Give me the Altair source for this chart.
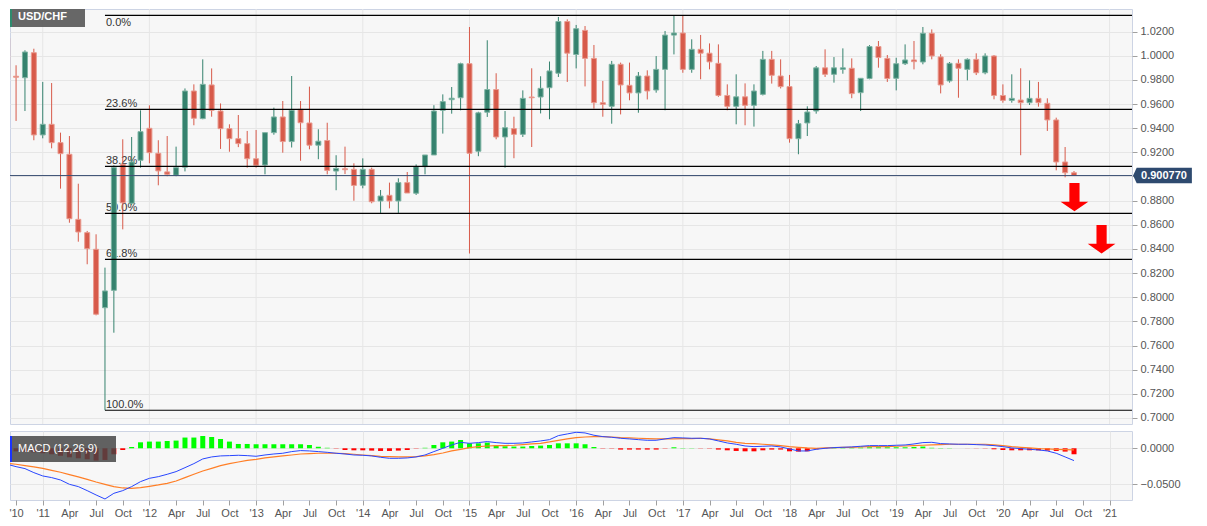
import json
import altair as alt
import numpy as np
import pandas as pd

# ---------------- data ----------------
PAIR = "USD/CHF"
INDICATOR = "MACD (12,26,9)"

months = pd.date_range("2010-09-01", periods=121, freq="MS")

opens = [
    1.0145, 0.9830, 0.9818, 1.0025,
    0.9344, 0.9432, 0.9280, 0.9184, 0.8645, 0.8535, 0.8397, 0.7913, 0.8057, 0.9100, 0.8778, 0.9134,
    0.9399, 0.9192, 0.9038, 0.9010, 0.9077, 0.9708, 0.9479, 0.9758, 0.9542, 0.9396, 0.9313, 0.9272,
    0.9147, 0.9095, 0.9363, 0.9493, 0.9289, 0.9556, 0.9443, 0.9259, 0.9298, 0.9045, 0.9064, 0.9059,
    0.8927, 0.9059, 0.8797, 0.8844, 0.8797, 0.8949, 0.8861, 0.9081, 0.9178, 0.9548, 0.9636, 0.9652,
    0.9934, 0.9209, 0.9532, 0.9720, 0.9327, 0.9396, 0.9349, 0.9658, 0.9658, 0.9735, 0.9855, 1.0283,
    1.0010, 1.0210, 0.9978, 0.9611, 0.9581, 0.9929, 0.9755, 0.9692, 0.9832, 0.9716, 0.9887, 1.0171,
    1.0188, 0.9887, 1.0053, 1.0021, 0.9937, 0.9671, 0.9581, 0.9660, 0.9589, 0.9680, 0.9970, 0.9832,
    0.9744, 0.9313, 0.9443, 0.9542, 0.9900, 0.9846, 0.9887, 0.9896, 0.9694, 0.9811, 1.0076, 0.9978,
    0.9813, 0.9934, 0.9965, 0.9948, 1.0186, 0.9990, 0.9791, 0.9937, 0.9887, 0.9970, 0.9859, 0.9998,
    0.9671, 0.9630, 0.9633, 0.9611, 0.9647, 0.9606, 0.9468, 0.9120, 0.9031,
]
highs = [
    1.0191, 0.9921, 1.0045, 1.0058,
    0.9783, 0.9774, 0.9363, 0.9335, 0.8940, 0.8549, 0.8521, 0.8245, 0.9093, 0.9308, 0.9327, 0.9548,
    0.9589, 0.9300, 0.9335, 0.9247, 0.9729, 0.9763, 0.9970, 0.9895, 0.9605, 0.9432, 0.9509, 0.9377,
    0.9385, 0.9363, 0.9570, 0.9625, 0.9832, 0.9625, 0.9744, 0.9391, 0.9445, 0.9176, 0.9247, 0.9109,
    0.9150, 0.9073, 0.8888, 0.8949, 0.8985, 0.9037, 0.9100, 0.9178, 0.9590, 0.9680, 0.9741, 0.9942,
    1.0238, 0.9536, 1.0128, 0.9855, 0.9542, 0.9495, 0.9713, 0.9896, 0.9830, 0.9952, 1.0321, 1.0301,
    1.0255, 1.0246, 1.0089, 0.9791, 0.9957, 0.9943, 0.9943, 0.9865, 0.9879, 0.9997, 1.0205, 1.0337,
    1.0337, 1.0136, 1.0172, 1.0102, 1.0094, 0.9763, 0.9846, 0.9771, 0.9763, 1.0040, 1.0040, 0.9970,
    0.9841, 0.9468, 0.9581, 0.9915, 1.0053, 0.9989, 1.0061, 0.9978, 0.9813, 1.0088, 1.0122, 1.0006,
    0.9983, 1.0094, 1.0122, 1.0238, 1.0218, 1.0012, 0.9948, 0.9970, 0.9978, 1.0020, 1.0020, 1.0006,
    0.9763, 0.9846, 0.9896, 0.9796, 0.9783, 0.9647, 0.9487, 0.9244, 0.9045,
]
lows = [
    0.9708, 0.9460, 0.9542, 0.9300,
    0.9316, 0.9233, 0.8899, 0.8617, 0.8460, 0.8273, 0.7850, 0.7064, 0.7706, 0.8562, 0.8764, 0.9073,
    0.9109, 0.8927, 0.9002, 0.9002, 0.9042, 0.9424, 0.9474, 0.9495, 0.9228, 0.9205, 0.9243, 0.9073,
    0.9073, 0.9018, 0.9346, 0.9197, 0.9240, 0.9130, 0.9225, 0.9143, 0.9018, 0.8886, 0.9020, 0.8799,
    0.8902, 0.8778, 0.8698, 0.8736, 0.8698, 0.8863, 0.8847, 0.9018, 0.9178, 0.9355, 0.9520, 0.9548,
    0.8362, 0.9168, 0.9493, 0.9308, 0.9073, 0.9151, 0.9327, 0.9244, 0.9522, 0.9474, 0.9824, 0.9783,
    0.9895, 0.9746, 0.9562, 0.9495, 0.9437, 0.9514, 0.9631, 0.9528, 0.9638, 0.9694, 0.9548, 1.0011,
    0.9859, 0.9859, 0.9805, 0.9887, 0.9660, 0.9548, 0.9432, 0.9424, 0.9413, 0.9671, 0.9769, 0.9729,
    0.9280, 0.9184, 0.9335, 0.9520, 0.9824, 0.9777, 0.9851, 0.9648, 0.9542, 0.9805, 0.9901, 0.9783,
    0.9713, 0.9923, 0.9887, 0.9929, 0.9970, 0.9688, 0.9777, 0.9652, 0.9796, 0.9840, 0.9846, 0.9639,
    0.9611, 0.9611, 0.9176, 0.9592, 0.9578, 0.9377, 0.9051, 0.8993, 0.9004,
]
closes = [
    0.9818, 0.9822, 1.0031, 0.9344,
    0.9432, 0.9280, 0.9189, 0.8650, 0.8540, 0.8402, 0.7859, 0.8052, 0.9073, 0.8782, 0.9120, 0.9371,
    0.9197, 0.9046, 0.9018, 0.9073, 0.9708, 0.9482, 0.9763, 0.9548, 0.9396, 0.9313, 0.9272, 0.9147,
    0.9093, 0.9363, 0.9493, 0.9289, 0.9548, 0.9445, 0.9259, 0.9292, 0.9050, 0.9067, 0.9056, 0.8926,
    0.9059, 0.8791, 0.8838, 0.8797, 0.8949, 0.8863, 0.9081, 0.9178, 0.9542, 0.9620, 0.9648, 0.9934,
    0.9192, 0.9527, 0.9720, 0.9327, 0.9404, 0.9349, 0.9647, 0.9652, 0.9730, 0.9874, 1.0283, 1.0021,
    1.0224, 0.9978, 0.9611, 0.9597, 0.9929, 0.9758, 0.9692, 0.9832, 0.9708, 0.9887, 1.0171, 1.0188,
    0.9887, 1.0053, 1.0021, 0.9949, 0.9671, 0.9581, 0.9660, 0.9589, 0.9708, 0.9970, 0.9838, 0.9744,
    0.9313, 0.9437, 0.9534, 0.9900, 0.9846, 0.9900, 0.9900, 0.9686, 0.9813, 1.0076, 0.9985, 0.9811,
    0.9934, 0.9965, 0.9951, 1.0186, 0.9998, 0.9758, 0.9937, 0.9896, 0.9970, 0.9859, 0.9998, 0.9671,
    0.9630, 0.9647, 0.9611, 0.9647, 0.9611, 0.9468, 0.9120, 0.9031, 0.9008,
]
macd_line = [
    -0.0222, -0.0255, -0.0282, -0.0338,
    -0.0384, -0.0407, -0.0440, -0.0500, -0.0532, -0.0588, -0.0648, -0.0704, -0.0625, -0.0588, -0.0532, -0.0463,
    -0.0417, -0.0394, -0.0361, -0.0324, -0.0269, -0.0213, -0.0148, -0.0120, -0.0106, -0.0102, -0.0097, -0.0102,
    -0.0111, -0.0093, -0.0079, -0.0069, -0.0046, -0.0032, -0.0037, -0.0046, -0.0056, -0.0069, -0.0079, -0.0093,
    -0.0097, -0.0106, -0.0125, -0.0139, -0.0139, -0.0134, -0.0120, -0.0093, -0.0046, 0.0000, 0.0046, 0.0083,
    0.0069, 0.0079, 0.0093, 0.0079, 0.0069, 0.0069, 0.0074, 0.0088, 0.0102, 0.0120, 0.0176, 0.0199,
    0.0222, 0.0213, 0.0181, 0.0162, 0.0153, 0.0139, 0.0130, 0.0120, 0.0111, 0.0111, 0.0130, 0.0148,
    0.0144, 0.0139, 0.0139, 0.0130, 0.0102, 0.0074, 0.0056, 0.0032, 0.0023, 0.0028, 0.0032, 0.0019,
    -0.0009, -0.0037, -0.0037, -0.0014, 0.0000, 0.0009, 0.0014, 0.0019, 0.0028, 0.0037, 0.0037, 0.0037,
    0.0042, 0.0046, 0.0060, 0.0079, 0.0083, 0.0065, 0.0060, 0.0056, 0.0056, 0.0051, 0.0046, 0.0037,
    0.0023, 0.0005, -0.0005, -0.0014, -0.0023, -0.0037, -0.0069, -0.0120, -0.0171,
]
signal_line = [
    -0.0208, -0.0222, -0.0241, -0.0259,
    -0.0278, -0.0306, -0.0333, -0.0366, -0.0398, -0.0431, -0.0468, -0.0500, -0.0532, -0.0551, -0.0556, -0.0546,
    -0.0528, -0.0509, -0.0486, -0.0454, -0.0407, -0.0361, -0.0315, -0.0278, -0.0241, -0.0213, -0.0190, -0.0167,
    -0.0153, -0.0134, -0.0120, -0.0106, -0.0093, -0.0079, -0.0074, -0.0069, -0.0069, -0.0069, -0.0074, -0.0083,
    -0.0093, -0.0102, -0.0111, -0.0116, -0.0120, -0.0120, -0.0116, -0.0106, -0.0088, -0.0065, -0.0037, -0.0014,
    0.0009, 0.0023, 0.0032, 0.0037, 0.0037, 0.0042, 0.0051, 0.0060, 0.0069, 0.0088, 0.0111, 0.0130,
    0.0148, 0.0157, 0.0162, 0.0162, 0.0157, 0.0148, 0.0144, 0.0139, 0.0134, 0.0130, 0.0130, 0.0130,
    0.0134, 0.0134, 0.0139, 0.0130, 0.0116, 0.0102, 0.0083, 0.0069, 0.0065, 0.0056, 0.0046, 0.0037,
    0.0023, 0.0014, 0.0005, 0.0000, 0.0005, 0.0009, 0.0014, 0.0014, 0.0019, 0.0023, 0.0023, 0.0023,
    0.0028, 0.0032, 0.0037, 0.0042, 0.0046, 0.0051, 0.0056, 0.0056, 0.0056, 0.0056, 0.0056, 0.0046,
    0.0037, 0.0023, 0.0014, 0.0005, -0.0005, -0.0009, -0.0014, -0.0019, -0.0023,
]
macd_hist = [
    -0.0032, -0.0042, -0.0049, -0.0056,
    -0.0069, -0.0083, -0.0104, -0.0125, -0.0139, -0.0153, -0.0171, -0.0162, -0.0083, -0.0024, 0.0018, 0.0083,
    0.0093, 0.0093, 0.0101, 0.0107, 0.0149, 0.0149, 0.0171, 0.0157, 0.0129, 0.0093, 0.0060, 0.0060,
    0.0056, 0.0056, 0.0056, 0.0056, 0.0056, 0.0056, 0.0046, 0.0021, 0.0007, -0.0004, -0.0024, -0.0028,
    -0.0028, -0.0032, -0.0037, -0.0037, -0.0032, -0.0024, -0.0004, 0.0007, 0.0046, 0.0083, 0.0093, 0.0115,
    0.0069, 0.0069, 0.0079, 0.0037, 0.0028, 0.0024, 0.0024, 0.0032, 0.0037, 0.0046, 0.0069, 0.0069,
    0.0069, 0.0056, 0.0018, -0.0004, -0.0004, -0.0018, -0.0018, -0.0018, -0.0018, -0.0018, -0.0004, 0.0014,
    0.0004, 0.0003, -0.0003, -0.0004, -0.0018, -0.0028, -0.0037, -0.0042, -0.0042, -0.0028, -0.0018, -0.0018,
    -0.0042, -0.0046, -0.0042, -0.0014, -0.0004, 0.0004, 0.0004, 0.0007, 0.0010, 0.0014, 0.0014, 0.0014,
    0.0014, 0.0014, 0.0018, 0.0024, 0.0007, 0.0004, 0.0003, 0.0000, -0.0001, -0.0002, -0.0003, -0.0014,
    -0.0024, -0.0028, -0.0028, -0.0028, -0.0028, -0.0032, -0.0037, -0.0046, -0.0083,
]

fib_labels = ["0.0%", "23.6%", "38.2%", "50.0%", "61.8%", "100.0%"]
fib_prices = [1.0335, 0.9556, 0.9084, 0.8695, 0.8314, 0.7064]
fib_anchor = "2011-08-01"          # month of the swing low the retracement is drawn from

last_price = 0.900770
arrow_months = [116.05, 119.1]     # month index (Jan 2011 = 0)
arrow_prices = [0.8829, 0.8480]

# ---------------- tables ----------------
def month_index(d):
    d = pd.Timestamp(d)
    return (d.year - 2011) * 12 + d.month - 1

df = pd.DataFrame({
    "m": [month_index(d) for d in months],
    "open": opens, "high": highs, "low": lows, "close": closes,
    "macd": macd_line, "signal": signal_line, "hist": macd_hist,
})
df["dir"] = np.where(df["close"] >= df["open"], "up", "down")
df["hdir"] = np.where(df["hist"] >= 0, "pos", "neg")

fib_df = pd.DataFrame({"label": fib_labels, "price": fib_prices})
fib_df["m"] = month_index(fib_anchor)

price_df = pd.DataFrame({"price": [last_price], "label": [f"{last_price:.6f}"]})
arrow_df = pd.DataFrame({"m": arrow_months, "price": arrow_prices})
pair_df = pd.DataFrame({"label": [PAIR]})
ind_df = pd.DataFrame({"label": [INDICATOR]})

tick_months = list(range(-3, 121, 3))
names = {3: "Apr", 6: "Jul", 9: "Oct"}
tick_labels = []
for mm in tick_months:
    if mm == -3:
        tick_labels.append("'10")
    elif mm % 12 == 0:
        tick_labels.append("'%02d" % (11 + mm // 12))
    else:
        tick_labels.append(names[mm % 12])
year_months = [mm for mm in tick_months if mm % 12 == 0]
year_df = pd.DataFrame({"m": year_months})
price_ticks = [round(0.70 + 0.02 * i, 2) for i in range(17)]

# ---------------- style ----------------
FONT = "Liberation Sans"
W, H_MAIN, H_MACD = 1122, 415, 69
GREEN, RED = "#35826e", "#d75a4a"
GREEN_EDGE, RED_EDGE = "#7fb4a4", "#e99a8f"
GRID = "#e6e6e6"

xs = alt.Scale(domain=[-3.12, 121.96], nice=False, zero=False)
ys = alt.Scale(domain=[0.6950, 1.0387], nice=False, zero=False)
ms = alt.Scale(domain=[-0.0718, 0.0240], nice=False, zero=False)

# the 0.9000 label sits under the last-price tag, as in the reference
y_main_axis = alt.Axis(orient="right", values=price_ticks, format=".4f", title=None,
                       tickSize=5, labelPadding=3, grid=True,
                       labelExpr="abs(datum.value - 0.9) < 1e-9 ? '' : datum.label")

label_expr = "[" + ",".join(json.dumps(t) for t in tick_labels) + "][indexof([" + \
    ",".join(str(v) for v in tick_months) + "], datum.value)]"
x_macd_axis = alt.Axis(values=tick_months, labelExpr=label_expr, title=None, tickSize=5,
                       labelPadding=2, grid=True,
                       gridOpacity={"condition": {"test": "datum.value % 12 === 0", "value": 1},
                                    "value": 0},
                       labelFlush=5, labelOverlap=False, domain=False)
y_macd_axis = alt.Axis(orient="right", values=[0, -0.05], format=".4f", title=None,
                       tickSize=5, labelPadding=3, grid=True)


def xm(field="m"):
    return alt.X(f"{field}:Q", scale=xs, axis=None)


def yp(field):
    return alt.Y(f"{field}:Q", scale=ys, axis=y_main_axis)


def xc(field="m"):
    return alt.X(f"{field}:Q", scale=xs, axis=x_macd_axis)


def yc(field):
    return alt.Y(f"{field}:Q", scale=ms, axis=y_macd_axis)


dir_fill = alt.Scale(domain=["up", "down"], range=[GREEN, RED])
dir_edge = alt.Scale(domain=["up", "down"], range=[GREEN_EDGE, RED_EDGE])

# ---------------- main panel ----------------
year_grid = alt.Chart(year_df).mark_rule(color=GRID, strokeWidth=1).encode(x=xm())

fib_text = alt.Chart(fib_df).transform_filter(
    alt.datum.label != "0.0%"
).mark_text(
    align="left", baseline="alphabetic", dx=1, dy=-2, font=FONT, fontSize=11,
    color="#333333", clip=True
).encode(x=xm(), y=yp("price"), text="label:N")

# the top label has no room above its line inside the plot, so it sits just below it
fib_text_top = alt.Chart(fib_df).transform_filter(
    alt.datum.label == "0.0%"
).mark_text(
    align="left", baseline="top", dx=1, dy=2, font=FONT, fontSize=11,
    color="#333333", clip=True
).encode(x=xm(), y=yp("price"), text="label:N")

wicks = alt.Chart(df).mark_rule(clip=True, strokeWidth=1).encode(
    x=xm(), y=yp("low"), y2="high:Q",
    color=alt.Color("dir:N", scale=dir_fill, legend=None))

bodies = alt.Chart(df).mark_bar(clip=True, width=5, strokeWidth=1).encode(
    x=xm(), y=yp("open"), y2="close:Q",
    fill=alt.Fill("dir:N", scale=dir_fill, legend=None),
    stroke=alt.Stroke("dir:N", scale=dir_edge, legend=None))

fib_rules = alt.Chart(fib_df).mark_rule(color="#000000", strokeWidth=1.2).encode(
    x=xm(), x2=alt.value(W), y=yp("price"))

price_line = alt.Chart(price_df).mark_rule(color="#3d5275", strokeWidth=1).encode(
    x=alt.value(0), x2=alt.value(W), y=yp("price"))

ARROW = "M-0.36,-1 L0.36,-1 L0.36,0.32 L0.98,0.32 L0,1 L-0.98,0.32 L-0.36,0.32 Z"
arrows = alt.Chart(arrow_df).mark_point(
    shape=ARROW, size=800, filled=True, color="#ff0000", opacity=1, strokeWidth=0
).encode(x=xm(), y=yp("price"))

TAG = "M-0.98,0 L-0.86,-0.26 L0.98,-0.26 L0.98,0.26 L-0.86,0.26 Z"
tag = alt.Chart(price_df).mark_point(
    shape=TAG, size=3600, filled=True, color="#2e4a6f", opacity=1, strokeWidth=0
).encode(x=alt.value(W + 30.5), y=yp("price"))
tag_text = alt.Chart(price_df).mark_text(
    font=FONT, fontSize=11, fontWeight="bold", color="white", align="center", baseline="middle"
).encode(x=alt.value(W + 32), y=yp("price"), text="label:N")

pair_box = alt.Chart(pair_df).mark_rect(color="#5f5f5f", opacity=0.95).encode(
    x=alt.value(0), x2=alt.value(75), y=alt.value(0), y2=alt.value(18))
pair_accent = alt.Chart(pair_df).mark_rect(color="#2e8b6e").encode(
    x=alt.value(0), x2=alt.value(2), y=alt.value(0), y2=alt.value(18))
pair_text = alt.Chart(pair_df).mark_text(
    font=FONT, fontSize=11, fontWeight="bold", color="white", align="left", baseline="middle"
).encode(x=alt.value(8), y=alt.value(8), text="label:N")

main = alt.layer(
    year_grid, fib_text, fib_text_top, wicks, bodies, fib_rules, price_line, arrows,
    tag, tag_text, pair_box, pair_accent, pair_text
).properties(width=W, height=H_MAIN)

# ---------------- MACD panel ----------------
hist = alt.Chart(df).mark_bar(clip=True, width=5).encode(
    x=xc(), y=yc("hist"), y2=alt.Y2Datum(0),
    color=alt.Color("hdir:N", scale=alt.Scale(domain=["pos", "neg"],
                                              range=["#00ff00", "#ff0000"]), legend=None))
sig = alt.Chart(df).mark_line(clip=True, color="#ff7f27", strokeWidth=1.2).encode(
    x=xc(), y=yc("signal"))
mac = alt.Chart(df).mark_line(clip=True, color="#2846ff", strokeWidth=1).encode(
    x=xc(), y=yc("macd"))

ind_box = alt.Chart(ind_df).mark_rect(color="#474747", opacity=0.85).encode(
    x=alt.value(0), x2=alt.value(106), y=alt.value(5), y2=alt.value(31))
ind_accent = alt.Chart(ind_df).mark_rect(color="#1a33ff").encode(
    x=alt.value(0), x2=alt.value(2), y=alt.value(5), y2=alt.value(31))
ind_text = alt.Chart(ind_df).mark_text(
    font=FONT, fontSize=11, color="white", align="left", baseline="middle"
).encode(x=alt.value(8), y=alt.value(18), text="label:N")

macd = alt.layer(hist, sig, mac, ind_box, ind_accent, ind_text).properties(
    width=W, height=H_MACD)

chart = alt.vconcat(main, macd, spacing=5).resolve_scale(
    color="independent", fill="independent", stroke="independent"
).properties(
    padding=0, background="white"
).configure_view(
    fill="#f7f7f7", stroke="#cdd4e4"
).configure_axis(
    labelFont=FONT, labelFontSize=11, labelColor="#555555",
    tickColor="#a0a0a0", gridColor=GRID, gridWidth=1, domain=False
)

chart.save("out.html", embed_options={"renderer": "svg", "actions": False})
